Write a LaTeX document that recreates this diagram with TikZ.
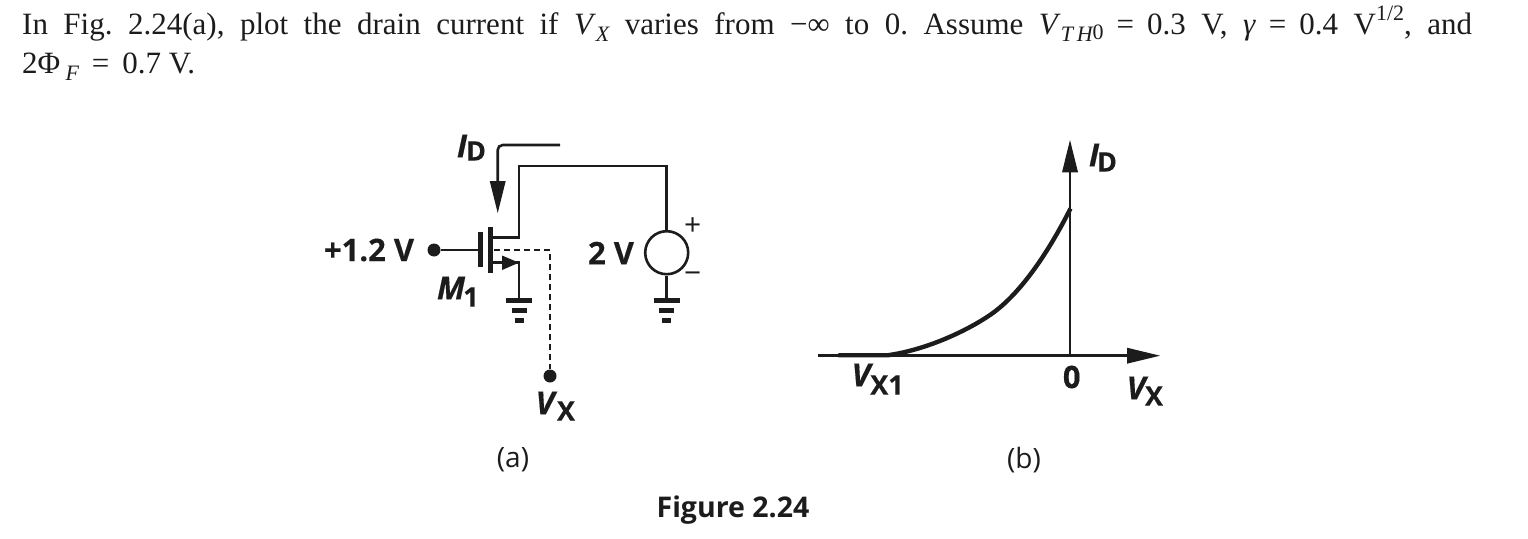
\documentclass[tikz,border=0pt]{standalone}
\usepackage{fontspec}
\setmainfont{Liberation Serif}
\newfontfamily\lab{Open Sans}[BoldFeatures={FakeBold=0.35},BoldItalicFeatures={FakeBold=0.35}]
\newfontfamily\figf{Open Sans}
\definecolor{ink}{HTML}{1C1C1C}
\frenchspacing
\newcommand{\sbs}[1]{\raisebox{-0.24em}{\fontsize{22}{22}\selectfont\itshape #1}}
\newcommand{\eqs}{\hspace{13pt}=\hspace{13pt}}
\tikzset{
  x=1pt,y=-1pt,
  wire/.style={line width=2.6pt,draw=ink},
  fat/.style={line width=5pt,draw=ink},
  dashwire/.style={line width=2.6pt,draw=ink,dash pattern=on 5.5pt off 4.5pt},
  headfill/.style={fill=ink,draw=none},
  dotn/.style={circle,fill=ink,inner sep=0pt,minimum size=13pt},
  bodytext/.style={anchor=base west,inner sep=0pt,text=ink,font=\fontsize{31}{32}\selectfont},
  bl/.style={anchor=center,inner sep=0pt,text=ink,font=\lab\bfseries\fontsize{31}{32}\selectfont},
  bi/.style={anchor=center,inner sep=0pt,text=ink,font=\lab\bfseries\itshape\fontsize{32}{32}\selectfont},
  bs/.style={anchor=center,inner sep=0pt,text=ink,font=\lab\bfseries\fontsize{27}{28}\selectfont},
  captxt/.style={anchor=center,inner sep=0pt,text=ink,font=\lab\fontsize{28}{30}\selectfont},
}
\begin{document}
\begin{tikzpicture}
\useasboundingbox (0,0) rectangle (1528,538);
\node[bodytext] (l1) at (22,34) {\hbox to 1450pt{In Fig. 2.24(a), plot the drain current if \textit{V}\sbs{X} varies from −∞ to 0. Assume \textit{V}\sbs{T\,H}{\fontsize{22}{22}\selectfont\raisebox{-0.24em}{0}}\eqs 0.3 V, \textit{γ}\eqs 0.4 V\raisebox{0.42em}{\fontsize{22}{22}\selectfont 1/2}, and}};
\node[bodytext] (l2) at (22,73) {2Φ\,\sbs{F}\eqs 0.7 V.};

% circuit (a)
\coordinate (corner) at (519,166);
\coordinate (srcTop) at (666.7,166);
\node[circle,draw=ink,line width=2.6pt,inner sep=0pt,minimum size=43pt] (vs) at (666.7,252.7) {};
\coordinate (gndA) at (519,300);
\coordinate (gndB) at (666.7,300);
\coordinate (drainEnd) at (490,237.3);
\coordinate (drainKnee) at (519,237.3);
\coordinate (srcEnd) at (490,262.7);
\coordinate (srcKnee) at (519,262.7);
\node[dotn] (g) at (434,250) {};
\coordinate (gateBarMid) at (480,250);
\node[dotn] (vx) at (550,376) {};
\coordinate (bodyPt) at (494,250);
\coordinate (dashKnee) at (550,250);
\coordinate (idStart) at (560,145);
\coordinate (idKnee) at (497.7,145);
\coordinate (idTip) at (497.7,213);

\draw[wire] (drainEnd) -- (drainKnee) -- (corner) -- (srcTop) -- (vs.north);
\draw[wire] (vs.south) -- (gndB);
\draw[wire] (srcEnd) -- (srcKnee) -- (gndA);
\draw[wire] (g) -- (gateBarMid);
\draw[fat] (480,232.3) -- (480,266.7);
\draw[fat,line width=5.5pt] (490.3,227.3) -- (490.3,273.3);
\fill[headfill] (srcKnee) -- (502,255.5) -- (502,270) -- cycle;
\draw[dashwire] (bodyPt) -- (dashKnee) -- (vx);
\draw[wire,rounded corners=5pt] (idStart) -- (idKnee) -- (497.7,190);
\fill[headfill] (idTip) -- (489.7,181) -- (505.7,181) -- cycle;
\foreach \gx in {519,666.7}{
  \draw[fat] (\gx-13,300) -- (\gx+13,300);
  \draw[fat] (\gx-7.5,310) -- (\gx+7.5,310);
  \draw[fat] (\gx-4.5,320.5) -- (\gx+4.5,320.5);
}
\node[bl] (t12) at (369,250) {+1.2 V};
\node[bl] (t2v) at (611,253) {2 V};
\node[captxt,font=\lab\fontsize{30}{30}\selectfont] (tp) at (692.7,226.5) {+};
\node[captxt,font=\lab\fontsize{30}{30}\selectfont] (tm) at (692.7,277.5) {−};
\node[bi] (tM) at (451,288) {M};
\node[bs] (tM1) at (471,297) {1};
\node[bi] (tI) at (462,146) {I};
\node[bs] (tID) at (476,151) {D};
\node[bi] (tV) at (545,403) {V};
\node[bs] (tX) at (566,411) {X};

% plot (b)
\coordinate (xStart) at (817.7,355.7);
\coordinate (xTip) at (1160,355.7);
\coordinate (yBase) at (1070,355.7);
\coordinate (yTip) at (1070,140);
\draw[wire] (xStart) -- (1130,355.7);
\fill[headfill] (xTip) -- (1127,347.7) -- (1127,363.7) -- cycle;
\draw[wire] (yBase) -- (1070,170);
\fill[headfill] (yTip) -- (1062,172.3) -- (1078,172.3) -- cycle;
\draw[ink,line width=4.4pt] (838.3,355.2) -- (888,355.2)
  .. controls (925,350) and (965,332) .. (990,315)
  .. controls (1018,296) and (1046,257) .. (1070.5,208.5);
\node[bi] (pI) at (1094,155) {I};
\node[bs] (pD) at (1107,162) {D};
\node[bi] (pV) at (861,375) {V};
\node[bs] (pX) at (887,385) {X1};
\node[bl] (p0) at (1071.7,377) {0};
\node[bi] (qV) at (1136,388) {V};
\node[bs] (qX) at (1154,396) {X};

\node[captxt] (ca) at (513,460) {(a)};
\node[captxt] (cb) at (1024,460) {(b)};
\node[anchor=center,inner sep=0pt,text=ink,font=\figf\bfseries\fontsize{28.5}{30}\selectfont] (fig) at (733,510) {Figure 2.24};
\end{tikzpicture}
\end{document}
